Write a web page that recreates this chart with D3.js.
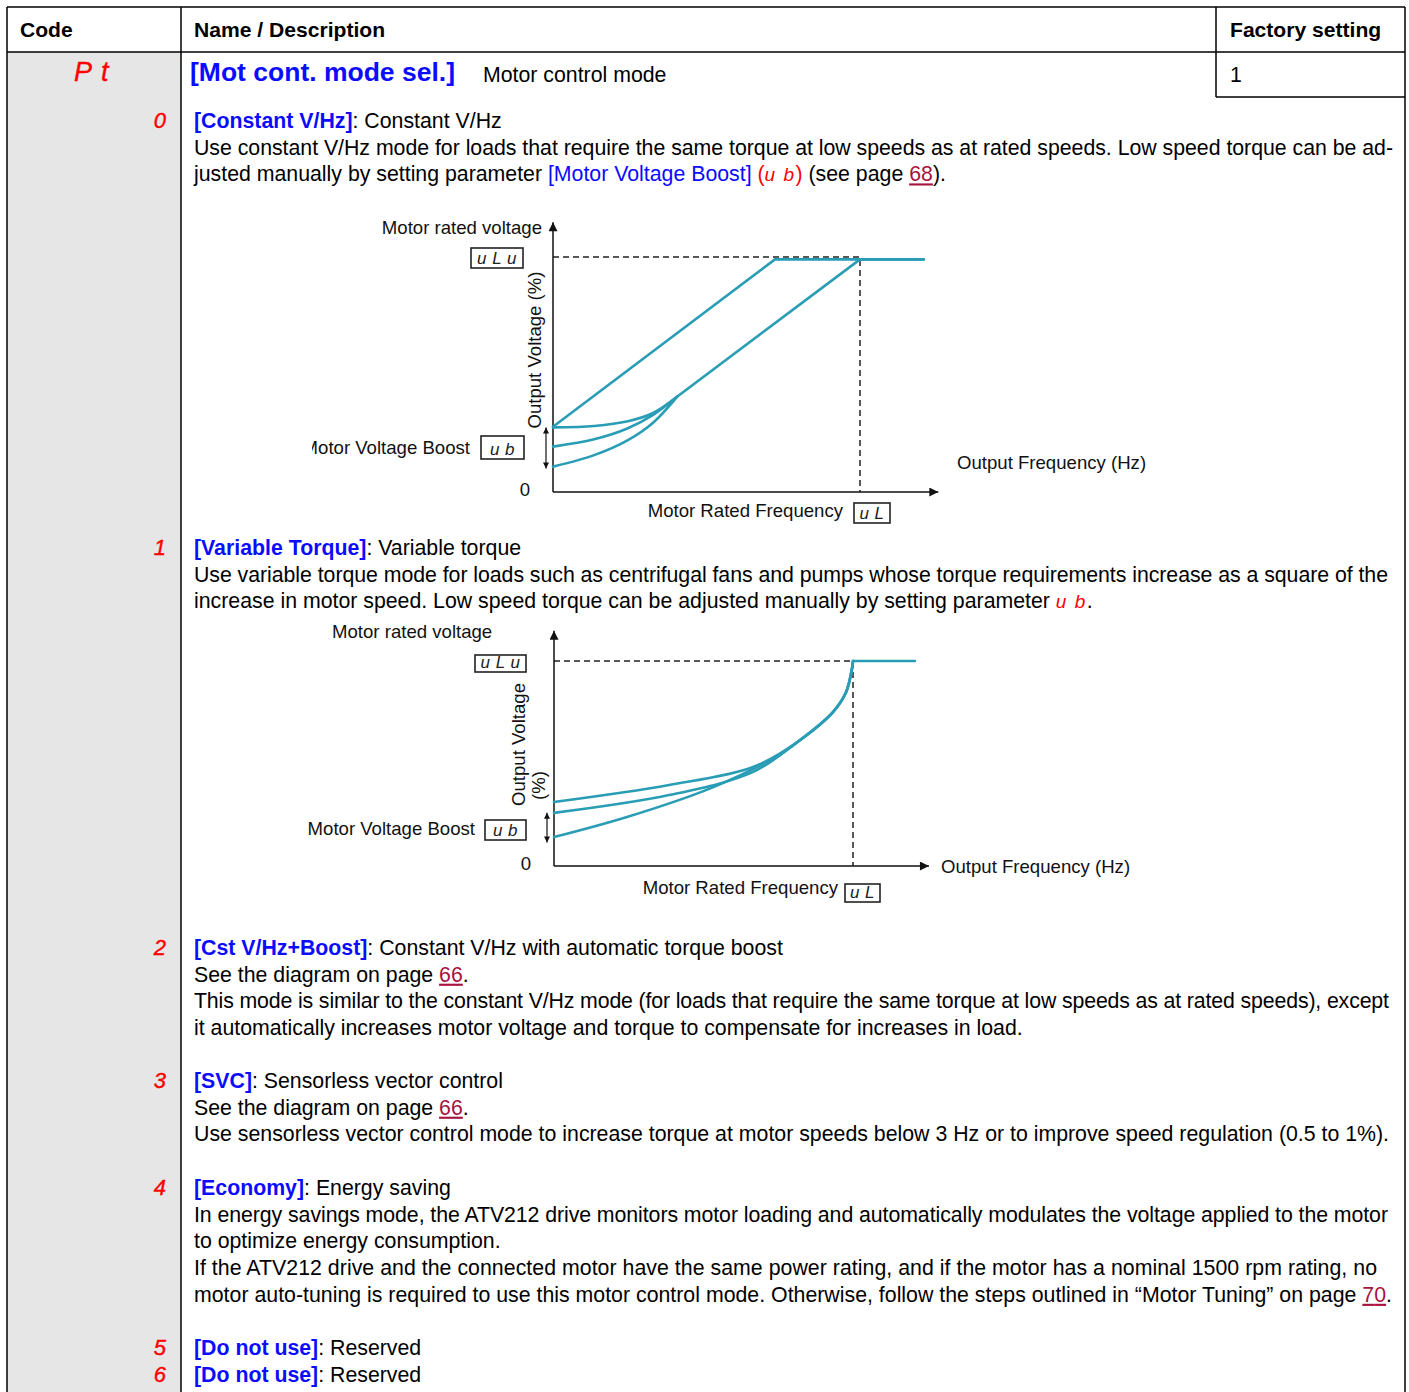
<!DOCTYPE html>
<html>
<head>
<meta charset="utf-8">
<script src="https://cdn.jsdelivr.net/npm/d3@7"></script>
<style>
  body { margin: 0; background: #fff; }
  svg { display: block; }
</style>
</head>
<body>
<script>
// Column headings of the parameter table
const headers = ["Code", "Name / Description", "Factory setting"];

// Parameter row
const paramCode = "Pt";
const paramName = "[Mot cont. mode sel.]";
const paramDesc = "Motor control mode";
const factorySetting = "1";

// Option codes shown in the grey column
const optionCodes = ["0", "1", "2", "3", "4", "5", "6"];

// Text of every option, one array of [style, text] pieces per line
const optionLines = [
  [
    [["b", "[Constant V/Hz]"], ["n", ": Constant V/Hz"]],
    [["n", "Use constant V/Hz mode for loads that require the same torque at low speeds as at rated speeds. Low speed torque can be ad-"]],
    [["n", "justed manually by setting parameter "], ["l", "[Motor Voltage Boost]"], ["n", " "], ["r", "("], ["seg", "u b"], ["r", ")"], ["n", " (see page "], ["link", "68"], ["n", ")."]]
  ],
  [
    [["b", "[Variable Torque]"], ["n", ": Variable torque"]],
    [["n", "Use variable torque mode for loads such as centrifugal fans and pumps whose torque requirements increase as a square of the"]],
    [["n", "increase in motor speed. Low speed torque can be adjusted manually by setting parameter "], ["seg", "u b"], ["n", "."]]
  ],
  [
    [["b", "[Cst V/Hz+Boost]"], ["n", ": Constant V/Hz with automatic torque boost"]],
    [["n", "See the diagram on page "], ["link", "66"], ["n", "."]],
    [["n", "This mode is similar to the constant V/Hz mode (for loads that require the same torque at low speeds as at rated speeds), except"]],
    [["n", "it automatically increases motor voltage and torque to compensate for increases in load."]]
  ],
  [
    [["b", "[SVC]"], ["n", ": Sensorless vector control"]],
    [["n", "See the diagram on page "], ["link", "66"], ["n", "."]],
    [["n", "Use sensorless vector control mode to increase torque at motor speeds below 3 Hz or to improve speed regulation (0.5 to 1%)."]]
  ],
  [
    [["b", "[Economy]"], ["n", ": Energy saving"]],
    [["n", "In energy savings mode, the ATV212 drive monitors motor loading and automatically modulates the voltage applied to the motor"]],
    [["n", "to optimize energy consumption."]],
    [["n", "If the ATV212 drive and the connected motor have the same power rating, and if the motor has a nominal 1500 rpm rating, no"]],
    [["n", "motor auto-tuning is required to use this motor control mode. Otherwise, follow the steps outlined in \u201cMotor Tuning\u201d on page "], ["link", "70"], ["n", "."]]
  ],
  [
    [["b", "[Do not use]"], ["n", ": Reserved"]]
  ],
  [
    [["b", "[Do not use]"], ["n", ": Reserved"]]
  ]
];

// Diagram labels
const axisLabelsVhz = ["Motor rated voltage", "Output Voltage (%)", "Motor Voltage Boost", "0", "Motor Rated Frequency", "Output Frequency (Hz)"];
const axisLabelsVt = ["Motor rated voltage", "Output Voltage", "(%)", "Motor Voltage Boost", "0", "Motor Rated Frequency", "Output Frequency (Hz)"];
const boxCodes = ["u L u", "u b", "u L"];

// Constant V/Hz diagram: frequency (% of rated) vs voltage (% of rated)
const vhzLinear = [[0, 27.8], [72.3, 99], [120.8, 99]];
const vhzBoostTop = [[0, 27.5], [13.4, 28.1], [24.4, 30.1], [32.6, 33.6], [40.4, 40.5]];
const vhzBoostMid = [[0, 19.3], [13.4, 22.4], [24.4, 27.1], [32.6, 32.8], [40.4, 40.5]];
const vhzBoostLow = [[0, 10.8], [13.4, 15.7], [24.4, 22.1], [32.6, 29.5], [40.4, 40.5]];
const vhzRamp = [[40.4, 40.5], [100, 99], [120.8, 99]];

// Variable torque diagram
const vtTop = [[0, 31.2], [38.5, 39.5], [66.6, 48.3], [81.9, 61], [93.3, 75.1], [97.7, 84.9], [99.7, 96.6], [100, 100]];
const vtMid = [[0, 25.9], [38.5, 34.6], [66.6, 45.9], [81.9, 61], [93.3, 75.1], [97.7, 84.9], [99.7, 96.6], [100, 100]];
const vtLow = [[0, 14.1], [24.4, 23.9], [52.5, 38], [73.6, 52.7], [81.9, 61], [93.3, 75.1], [97.7, 84.9], [99.7, 96.6], [100, 100]];
const vtFlat = [[100, 100], [120.7, 100]];

const W = 1409, H = 1392;
const BLUE = "#0b0bff", RED = "#ff0000", LINK = "#a8123f", TEAL = "#2a9db6", GREY = "#e6e6e6";
const FONT = "'Liberation Sans', Arial, Helvetica, sans-serif";
const BODY = 21.3, SMALL = 18.6;
const TEXT_X = 194;

// justified lines: option index -> line index -> right edge
const justified = { 0: { 1: 1393 }, 1: { 1: 1388 }, 2: { 2: 1389 }, 3: { 2: 1389 }, 4: { 1: 1388, 3: 1377, 4: 1392 } };

const svg = d3.select("body").append("svg")
    .attr("width", W)
    .attr("height", H)
    .style("font-family", FONT);

const defs = svg.append("defs");
function marker(id, w, h) {
    defs.append("marker")
        .attr("id", id)
        .attr("viewBox", "0 0 10 10")
        .attr("refX", 10).attr("refY", 5)
        .attr("markerUnits", "userSpaceOnUse")
        .attr("markerWidth", w).attr("markerHeight", h)
        .attr("orient", "auto-start-reverse")
        .append("path")
        .attr("d", "M0,0L10,5L0,10z")
        .attr("fill", "#111");
}
marker("axisArrow", 17, 9);
marker("smallArrow", 8, 6);

defs.append("clipPath").attr("id", "boostClip")
    .append("rect").attr("x", 312).attr("y", 420).attr("width", 170).attr("height", 50);

// ---- table frame ----
svg.append("rect").attr("x", 7).attr("y", 52).attr("width", 174).attr("height", H).attr("fill", GREY);

const frame = [
    [7, 7, 1405, 7], [7, 7, 7, H], [1405, 7, 1405, H], [7, 52, 1405, 52],
    [181, 7, 181, H], [1216, 7, 1216, 97], [1216, 97, 1405, 97]
];
svg.append("g").selectAll("line").data(frame).join("line")
    .attr("x1", d => d[0]).attr("y1", d => d[1])
    .attr("x2", d => d[2]).attr("y2", d => d[3])
    .attr("stroke", "#000").attr("stroke-width", 1.5);

// headers
const headerX = [20, 194, 1230];
svg.append("g").selectAll("text").data(headers).join("text")
    .attr("x", (d, i) => headerX[i]).attr("y", 37)
    .attr("font-size", 21.1).attr("font-weight", "bold")
    .text(d => d);

// parameter row
svg.append("text").attr("x", 74).attr("y", 81)
    .attr("font-size", 27).attr("font-style", "italic").attr("fill", RED)
    .attr("letter-spacing", 9).attr("stroke", RED).attr("stroke-width", 0.4)
    .text(paramCode);
svg.append("text").attr("x", 190).attr("y", 81)
    .attr("font-size", 26.5).attr("font-weight", "bold").attr("fill", BLUE)
    .text(paramName);
svg.append("text").attr("x", 483).attr("y", 82).attr("font-size", BODY).text(paramDesc);
svg.append("text").attr("x", 1230).attr("y", 82).attr("font-size", BODY).text(factorySetting);

// ---- option text ----
const lineStep = 26.7;
const blockTops = [128, 555, 955, 1088, 1195, 1355, 1382];

function styleSpan(ts, kind) {
    if (kind === "b") ts.attr("font-weight", "bold").attr("fill", BLUE);
    else if (kind === "l") ts.attr("fill", BLUE);
    else if (kind === "r") ts.attr("fill", RED);
    else if (kind === "seg") ts.attr("fill", RED).attr("font-style", "italic").attr("font-size", 19).attr("letter-spacing", 1.5);
    else if (kind === "link") ts.attr("fill", LINK).attr("text-decoration", "underline");
    else ts.attr("fill", "#000");
}

optionLines.forEach((lines, i) => {
    const y0 = blockTops[i];
    svg.append("text")
        .attr("x", 166).attr("y", y0)
        .attr("text-anchor", "end")
        .attr("font-size", 22).attr("font-style", "italic")
        .attr("fill", RED).attr("stroke", RED).attr("stroke-width", 0.4)
        .text(optionCodes[i]);
    lines.forEach((segs, j) => {
        const t = svg.append("text")
            .attr("x", TEXT_X).attr("y", y0 + j * lineStep)
            .attr("font-size", BODY)
            .attr("xml:space", "preserve");
        segs.forEach(([kind, s]) => styleSpan(t.append("tspan").text(s), kind));
        const right = justified[i] && justified[i][j];
        if (right) t.attr("textLength", right - TEXT_X).attr("lengthAdjust", "spacing");
    });
});

// ---- diagrams ----
function codeBox(g, x, y, w, h, label) {
    g.append("rect").attr("x", x).attr("y", y).attr("width", w).attr("height", h)
        .attr("fill", "#fff").attr("stroke", "#222").attr("stroke-width", 1.6);
    g.append("text").attr("x", x + w / 2).attr("y", y + h - 4)
        .attr("text-anchor", "middle").attr("font-size", 17).attr("font-style", "italic")
        .attr("letter-spacing", 0.5).attr("fill", "#222")
        .text(label);
}

function drawDiagram(cfg) {
    const g = svg.append("g");
    const x = d3.scaleLinear().domain([0, 100]).range([cfg.left, cfg.rated]);
    const y = d3.scaleLinear().domain([0, 100]).range([cfg.bottom, cfg.top]);
    const line = d3.line().x(d => x(d[0])).y(d => y(d[1]));

    // dashed guides
    g.append("path")
        .attr("d", line([[0, 100], [100, 100], [100, 0]]))
        .attr("fill", "none").attr("stroke", "#222").attr("stroke-width", 1.5)
        .attr("stroke-dasharray", "6,4");

    // axes with arrows
    g.append("line")
        .attr("x1", x(0)).attr("y1", y(0)).attr("x2", x(cfg.xEnd)).attr("y2", y(0))
        .attr("stroke", "#111").attr("stroke-width", 1.5).attr("marker-end", "url(#axisArrow)");
    g.append("line")
        .attr("x1", x(0)).attr("y1", y(0)).attr("x2", x(0)).attr("y2", y(cfg.yEnd))
        .attr("stroke", "#111").attr("stroke-width", 1.5).attr("marker-end", "url(#axisArrow)");

    // curves
    cfg.series.forEach(s => {
        g.append("path")
            .attr("d", line.curve(s.curve)(s.data))
            .attr("fill", "none").attr("stroke", TEAL).attr("stroke-width", 2.6)
            .attr("stroke-linecap", "round");
    });

    // boost range arrow
    g.append("line")
        .attr("x1", cfg.boostX).attr("y1", y(cfg.boostRange[0])).attr("x2", cfg.boostX).attr("y2", y(cfg.boostRange[1]))
        .attr("stroke", "#111").attr("stroke-width", 1.2)
        .attr("marker-start", "url(#smallArrow)").attr("marker-end", "url(#smallArrow)");

    cfg.labels.forEach(l => {
        const t = g.append("text")
            .attr("x", l.x).attr("y", l.y)
            .attr("font-size", SMALL).attr("fill", "#111")
            .attr("text-anchor", l.anchor || "start")
            .text(l.text);
        if (l.rotate) t.attr("transform", `rotate(-90,${l.x},${l.y})`);
        if (l.clip) t.attr("clip-path", `url(#${l.clip})`);
    });
    cfg.boxes.forEach(b => codeBox(g, b.x, b.y, b.w, b.h, b.label));
}

drawDiagram({
    left: 553, rated: 860, bottom: 492, top: 257, xEnd: 125.5, yEnd: 114.8,
    boostX: 546, boostRange: [27.5, 10],
    series: [
        { data: vhzLinear, curve: d3.curveLinear },
        { data: vhzRamp, curve: d3.curveLinear },
        { data: vhzBoostTop, curve: d3.curveCatmullRom.alpha(0.5) },
        { data: vhzBoostMid, curve: d3.curveCatmullRom.alpha(0.5) },
        { data: vhzBoostLow, curve: d3.curveCatmullRom.alpha(0.5) }
    ],
    labels: [
        { text: axisLabelsVhz[0], x: 542, y: 234, anchor: "end" },
        { text: axisLabelsVhz[1], x: 541, y: 350, anchor: "middle", rotate: true },
        { text: axisLabelsVhz[2], x: 470, y: 454, anchor: "end", clip: "boostClip" },
        { text: axisLabelsVhz[3], x: 530, y: 496, anchor: "end" },
        { text: axisLabelsVhz[4], x: 843, y: 517, anchor: "end" },
        { text: axisLabelsVhz[5], x: 957, y: 469 }
    ],
    boxes: [
        { x: 471, y: 248, w: 52, h: 20, label: boxCodes[0] },
        { x: 481, y: 436, w: 43, h: 23, label: boxCodes[1] },
        { x: 854, y: 503, w: 36, h: 20, label: boxCodes[2] }
    ]
});

drawDiagram({
    left: 554, rated: 853, bottom: 866, top: 661, xEnd: 125.4, yEnd: 114.8,
    boostX: 547, boostRange: [26, 11.5],
    series: [
        { data: vtTop, curve: d3.curveCatmullRom.alpha(0.5) },
        { data: vtMid, curve: d3.curveCatmullRom.alpha(0.5) },
        { data: vtLow, curve: d3.curveCatmullRom.alpha(0.5) },
        { data: vtFlat, curve: d3.curveLinear }
    ],
    labels: [
        { text: axisLabelsVt[0], x: 332, y: 638 },
        { text: axisLabelsVt[1], x: 525, y: 806, rotate: true },
        { text: axisLabelsVt[2], x: 545, y: 800, rotate: true },
        { text: axisLabelsVt[3], x: 475, y: 835, anchor: "end" },
        { text: axisLabelsVt[4], x: 531, y: 870, anchor: "end" },
        { text: axisLabelsVt[5], x: 838, y: 894, anchor: "end" },
        { text: axisLabelsVt[6], x: 941, y: 873 }
    ],
    boxes: [
        { x: 475, y: 655, w: 51, h: 17, label: boxCodes[0] },
        { x: 485, y: 820, w: 41, h: 20, label: boxCodes[1] },
        { x: 845, y: 884, w: 35, h: 18, label: boxCodes[2] }
    ]
});
</script>
</body>
</html>
